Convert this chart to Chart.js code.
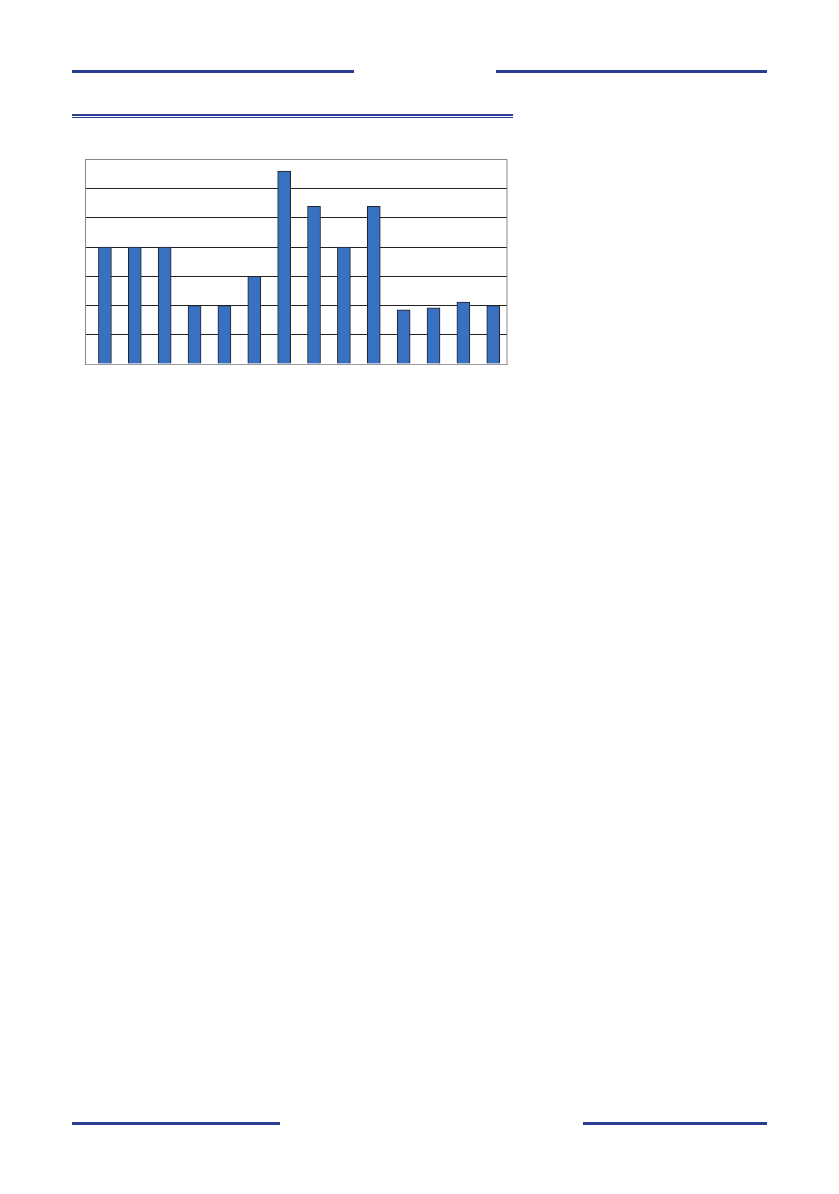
<!DOCTYPE html>
<html>
<head>
<meta charset="utf-8">
<script src="https://cdn.jsdelivr.net/npm/chart.js@4"></script>
<style>
  html, body { margin:0; padding:0; background:#fff; }
  body { width:839px; height:1194px; position:relative; overflow:hidden; }
  .rule { position:absolute; background:#283E92; }
  #wrap { position:absolute; left:70px; top:150px; width:450px; height:230px; }
</style>
</head>
<body>
<div class="rule" style="left:72px; top:70px; width:282px; height:3px;"></div>
<div class="rule" style="left:496px; top:70px; width:271px; height:3px;"></div>
<div class="rule" style="left:72px; top:114px; width:441px; height:2px;"></div>
<div class="rule" style="left:72px; top:117px; width:441px; height:1px;"></div>
<div class="rule" style="left:72px; top:1122px; width:208px; height:3px;"></div>
<div class="rule" style="left:583px; top:1122px; width:184px; height:3px;"></div>
<div id="wrap"><canvas id="c"></canvas></div>
<script>
const categories = [1, 2, 3, 4, 5, 6, 7, 8, 9, 10, 11, 12, 13, 14];
const values = [4, 4, 4, 2, 2, 3, 6.6, 5.4, 4, 5.4, 1.85, 1.92, 2.12, 2];
const yMin = 0, yMax = 7, yStep = 1;
const xMin = 0.35, xMax = 14.46;

const frame = {
  id: 'frame',
  afterDraw(chart) {
    const a = chart.chartArea, ctx = chart.ctx;
    ctx.save();
    ctx.strokeStyle = '#888';
    ctx.lineWidth = 1;
    ctx.beginPath();
    ctx.moveTo(a.right, a.top);
    ctx.lineTo(a.right, a.bottom);
    ctx.stroke();
    ctx.restore();
  }
};

new Chart(document.getElementById('c'), {
  type: 'bar',
  data: {
    datasets: [{
      data: categories.map((c, i) => ({ x: c, y: values[i] })),
      backgroundColor: '#3870C2',
      borderColor: '#222',
      borderWidth: 1,
      barThickness: 13
    }]
  },
  options: {
    responsive: true,
    maintainAspectRatio: false,
    animation: false,
    devicePixelRatio: 1,
    layout: { padding: { left: 15.5, top: 9.5, right: 13, bottom: 16 } },
    plugins: { legend: { display: false }, tooltip: { enabled: false } },
    scales: {
      x: {
        type: 'linear',
        min: xMin, max: xMax,
        offset: false,
        grid: { display: false, drawTicks: false },
        ticks: { display: false },
        border: { display: true, color: '#999', width: 1 }
      },
      y: {
        min: yMin, max: yMax,
        ticks: { display: false, stepSize: yStep },
        grid: {
          drawTicks: false,
          color: ctx => (ctx.tick && (ctx.tick.value === yMax) ? '#888' : (ctx.tick && ctx.tick.value === 0 ? '#999' : '#222')),
          lineWidth: 1
        },
        border: { display: true, color: '#888', width: 1 }
      }
    }
  },
  plugins: [frame]
});
</script>
</body>
</html>
